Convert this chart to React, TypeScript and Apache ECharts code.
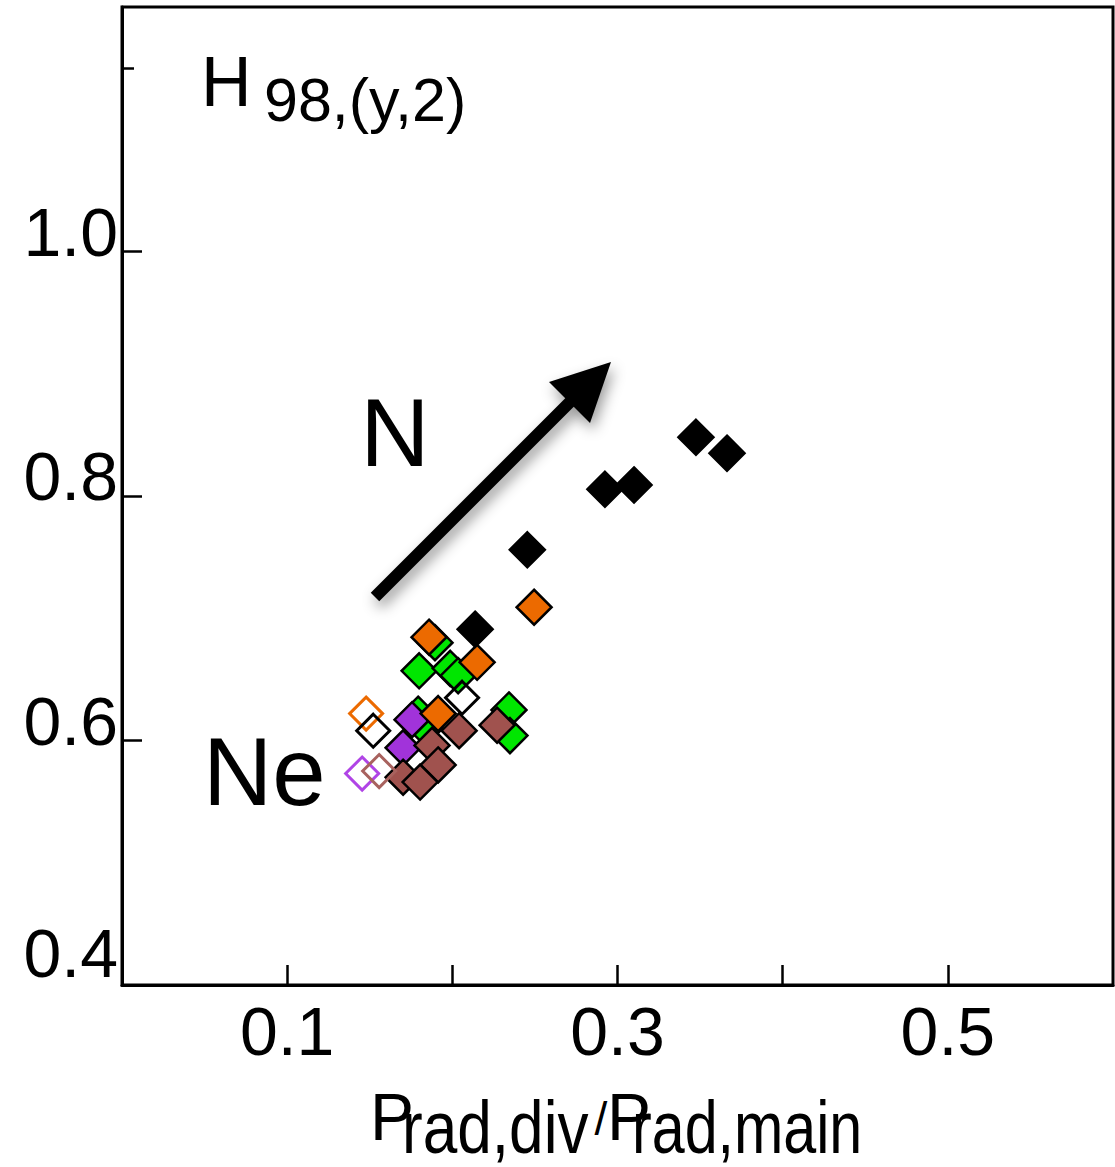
import React, { useEffect, useRef } from "react";
import * as echarts from "echarts";

// Axis ticks / labels
const xTickValues = [0.1, 0.2, 0.3, 0.4, 0.5];
const xLabelValues = [0.1, 0.3, 0.5];
const yLabelValues = [0.4, 0.6, 0.8, 1.0];
const yTickValues = [0.6, 0.8, 1.0];
const yMinorTickValues = [1.15];

// Data: [Prad,div/Prad,main, H98,(y,2)]
const greenFilled = [
  [0.1895, 0.68], [0.1799, 0.657], [0.1987, 0.659], [0.2035, 0.653],
  [0.1793, 0.6215], [0.1836, 0.61], [0.2343, 0.625], [0.2349, 0.604],
];
const purpleFilled = [[0.1756, 0.617], [0.1702, 0.594]];
const brownFilled = [
  [0.2041, 0.608], [0.1877, 0.596], [0.1914, 0.58], [0.1702, 0.57],
  [0.1805, 0.566], [0.2271, 0.6125],
];
const orangeFilled = [[0.1859, 0.6845], [0.215, 0.664], [0.1914, 0.622], [0.2495, 0.709]];
const blackFilled = [
  [0.2138, 0.691], [0.2454, 0.756], [0.2924, 0.8055], [0.31, 0.809],
  [0.3475, 0.848], [0.3663, 0.835],
];
const orangeOpen = [[0.1478, 0.622]];
const blackOpen = [[0.1521, 0.608], [0.2059, 0.635]];
const purpleOpen = [[0.1454, 0.573]];
const brownOpen = [[0.1557, 0.575]];

const FONT = "'Liberation Sans', Arial, Helvetica, sans-serif";

const filled = (name: string, data: number[][], color: string) => ({
  type: "scatter",
  name,
  data,
  symbol: "diamond",
  symbolSize: 35,
  itemStyle: { color, borderColor: "#000", borderWidth: 2.5, opacity: 1 },
  emphasis: { disabled: true },
});

const open = (name: string, data: number[][], color: string) => ({
  type: "scatter",
  name,
  data,
  symbol: "diamond",
  symbolSize: 33,
  itemStyle: { color: "rgba(255,255,255,0)", borderColor: color, borderWidth: 3, opacity: 1 },
  emphasis: { disabled: true },
});

const shadow = {
  shadowBlur: 14,
  shadowColor: "rgba(0,0,0,0.4)",
  shadowOffsetX: 3,
  shadowOffsetY: 7,
};

export default function App() {
  const ref = useRef<HTMLDivElement>(null);
  useEffect(() => {
    if (!ref.current) return;
    const chart = echarts.init(ref.current, null, { renderer: "svg" });
    const axisLineStyle = { color: "#000", width: 3 };
    chart.setOption({
      animation: false,
      backgroundColor: "#fff",
      grid: {
        left: 122,
        right: 2,
        top: 7,
        bottom: 182,
        show: true,
        borderColor: "#000",
        borderWidth: 3,
        backgroundColor: "rgba(0,0,0,0)",
        outerBoundsMode: "none",
        containLabel: false,
      },
      xAxis: {
        type: "value",
        min: 0,
        max: 0.6,
        interval: 0.1,
        axisLine: { show: true, onZero: false, lineStyle: axisLineStyle },
        axisTick: {
          show: true,
          inside: true,
          length: 20,
          customValues: xTickValues,
          lineStyle: { color: "#000", width: 2.5 },
        },
        axisLabel: {
          customValues: xLabelValues,
          fontSize: 68,
          fontFamily: FONT,
          color: "#000",
          margin: 46,
          verticalAlign: "middle",
          formatter: (v: number) => v.toFixed(1),
        },
        splitLine: { show: false },
      },
      yAxis: [
        {
          type: "value",
          min: 0.4,
          max: 1.2,
          interval: 0.2,
          axisLine: { show: true, onZero: false, lineStyle: axisLineStyle },
          axisTick: {
            show: true,
            inside: true,
            length: 20,
            customValues: yTickValues,
            lineStyle: { color: "#000", width: 2.5 },
          },
          axisLabel: {
            customValues: yLabelValues,
            margin: 4,
            color: "#000",
            formatter: (v: number) =>
              Math.abs(v - 0.4) < 1e-6 ? `{b|${v.toFixed(1)}}` : `{a|${v.toFixed(1)}}`,
            rich: {
              a: { fontSize: 68, fontFamily: FONT, color: "#000", padding: [0, 0, 40, 0] },
              b: { fontSize: 68, fontFamily: FONT, color: "#000", padding: [0, 0, 64, 0] },
            },
          },
          splitLine: { show: false },
        },
        {
          type: "value",
          min: 0.4,
          max: 1.2,
          interval: 0.2,
          position: "left",
          axisLine: { show: false },
          axisTick: {
            show: true,
            inside: true,
            length: 12,
            customValues: yMinorTickValues,
            lineStyle: { color: "#000", width: 2.5 },
          },
          axisLabel: { show: false },
          splitLine: { show: false },
        },
      ],
      series: [
        filled("green", greenFilled, "#00E600"),
        filled("purple", purpleFilled, "#A133DA"),
        filled("brown", brownFilled, "#A0524E"),
        filled("orange", orangeFilled, "#EC6A00"),
        filled("black", blackFilled, "#000000"),
        open("orangeOpen", orangeOpen, "#EC6A00"),
        open("blackOpen", blackOpen, "#000000"),
        open("purpleOpen", purpleOpen, "#B044E6"),
        open("brownOpen", brownOpen, "#A8625E"),
      ],
      graphic: [
        { type: "text", x: 201, y: 82, style: { text: "H", fontSize: 70, fontFamily: FONT, fill: "#000", align: "left", verticalAlign: "middle" } },
        { type: "text", x: 264, y: 100, style: { text: "98,(y,2)", fontSize: 61, fontFamily: FONT, fill: "#000", align: "left", verticalAlign: "middle" } },
        { type: "text", x: 395, y: 432, style: { text: "N", fontSize: 96, fontFamily: FONT, fill: "#000", align: "center", verticalAlign: "middle" } },
        { type: "text", x: 203, y: 771, style: { text: "Ne", fontSize: 96, fontFamily: FONT, fill: "#000", align: "left", verticalAlign: "middle" } },
        { type: "line", shape: { x1: 375, y1: 597, x2: 572, y2: 400 }, style: { stroke: "#000", lineWidth: 12, ...shadow } },
        { type: "polygon", shape: { points: [[611, 362], [549, 382], [590, 423]] }, style: { fill: "#000", ...shadow } },
        { type: "text", x: 370, y: 1116.5, style: { text: "P", fontSize: 66, fontFamily: FONT, fill: "#000", align: "left", verticalAlign: "middle" } },
        { type: "text", x: 402, y: 1127, scaleX: 0.84, style: { text: "rad,div", fontSize: 74, fontFamily: FONT, fill: "#000", align: "left", verticalAlign: "middle" } },
        { type: "text", x: 601, y: 1119, style: { text: "/", fontSize: 46, fontFamily: FONT, fill: "#000", align: "center", verticalAlign: "middle" } },
        { type: "text", x: 607, y: 1116.5, style: { text: "P", fontSize: 66, fontFamily: FONT, fill: "#000", align: "left", verticalAlign: "middle" } },
        { type: "text", x: 632, y: 1127, scaleX: 0.8, style: { text: "rad,main", fontSize: 74, fontFamily: FONT, fill: "#000", align: "left", verticalAlign: "middle" } },
      ],
    });
    return () => chart.dispose();
  }, []);
  return (
    <div
      ref={ref}
      style={{ position: "absolute", left: 0, top: 0, width: 1115, height: 1167 }}
    />
  );
}
